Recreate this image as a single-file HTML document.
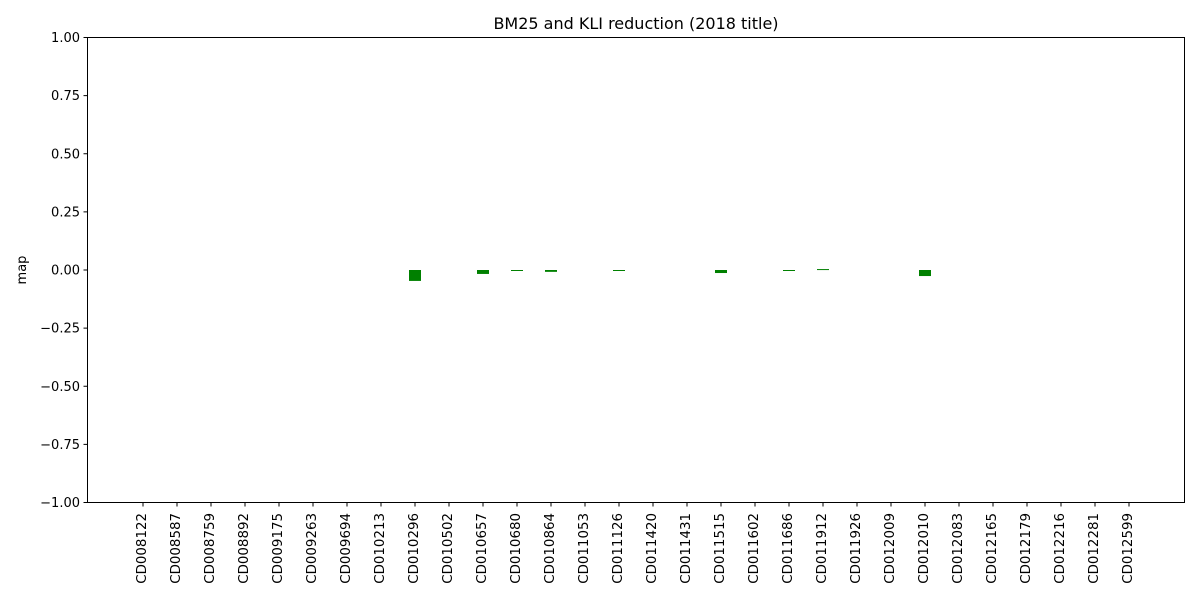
<!DOCTYPE html>
<html><head><meta charset="utf-8"><style>
body{margin:0;background:#fff;}
svg text{font-family:"DejaVu Sans","Liberation Sans",sans-serif;}
</style></head><body>
<svg id="chart" width="1200" height="600" xmlns="http://www.w3.org/2000/svg">
<rect width="1200" height="600" fill="#fff"/>
<text x="636" y="29" font-size="16" text-anchor="middle">BM25 and KLI reduction (2018 title)</text>
<text x="26" y="270" font-size="13" text-anchor="middle" transform="rotate(-90 26 270)">map</text>
<g id="bars"></g>
<g id="yticks"></g>
<g id="xticks"></g>
<rect x="87.5" y="37.5" width="1097" height="465" fill="none" stroke="#000" stroke-width="1"/>
</svg>
<script>
const categories=["CD008122","CD008587","CD008759","CD008892","CD009175","CD009263","CD009694","CD010213","CD010296","CD010502","CD010657","CD010680","CD010864","CD011053","CD011126","CD011420","CD011431","CD011515","CD011602","CD011686","CD011912","CD011926","CD012009","CD012010","CD012083","CD012165","CD012179","CD012216","CD012281","CD012599"];
const values=[0,0,0,0,0,0,0,0,-0.047,0,-0.017,-0.004,-0.008,0,-0.004,0,0,-0.013,0,-0.004,0.004,0,0,-0.026,0,0,0,0,0,0];
const yTicks=[-1,-0.75,-0.5,-0.25,0,0.25,0.5,0.75,1];
const yTickLabels=["\u22121.00","\u22120.75","\u22120.50","\u22120.25","0.00","0.25","0.50","0.75","1.00"];
const NS="http://www.w3.org/2000/svg";
const top_=37.5,bot=502.5,x0=143,step=34,bw=12;
function yScale(v){return bot-(v+1)/2*(bot-top_);}
function xScale(i){return x0+i*step;}
const bars=document.getElementById('bars'),yt=document.getElementById('yticks'),xt=document.getElementById('xticks');
values.forEach((v,i)=>{
  if(v===0)return;
  const r=document.createElementNS(NS,'rect');
  const y1=yScale(Math.max(v,0)),y2=yScale(Math.min(v,0));
  r.setAttribute('x',xScale(i)-bw/2);r.setAttribute('y',y1);
  r.setAttribute('width',bw);r.setAttribute('height',Math.max(y2-y1,1));
  r.setAttribute('fill','#008000');
  
  
  bars.appendChild(r);
});
yTicks.forEach((t,i)=>{
  const y=yScale(t);
  const l=document.createElementNS(NS,'line');
  l.setAttribute('x1',83.5);l.setAttribute('x2',87.5);l.setAttribute('y1',y);l.setAttribute('y2',y);l.setAttribute('stroke','#000');
  
  
  yt.appendChild(l);
  const tx=document.createElementNS(NS,'text');
  tx.setAttribute('x',80);tx.setAttribute('y',y+4.5);tx.setAttribute('font-size','13');tx.setAttribute('text-anchor','end');
  tx.textContent=yTickLabels[i];
  
  
  yt.appendChild(tx);
});
categories.forEach((c,i)=>{
  const x=xScale(i);
  const l=document.createElementNS(NS,'line');
  l.setAttribute('x1',x);l.setAttribute('x2',x);l.setAttribute('y1',502.5);l.setAttribute('y2',506.5);l.setAttribute('stroke','#000');
  
  
  xt.appendChild(l);
  const tx=document.createElementNS(NS,'text');
  tx.setAttribute('x',x+3);tx.setAttribute('y',513);tx.setAttribute('font-size','13.4');tx.setAttribute('text-anchor','end');
  tx.setAttribute('transform','rotate(-90 '+(x+3)+' 513)');
  tx.textContent=c;
  
  
  xt.appendChild(tx);
});
</script>
</body></html>
